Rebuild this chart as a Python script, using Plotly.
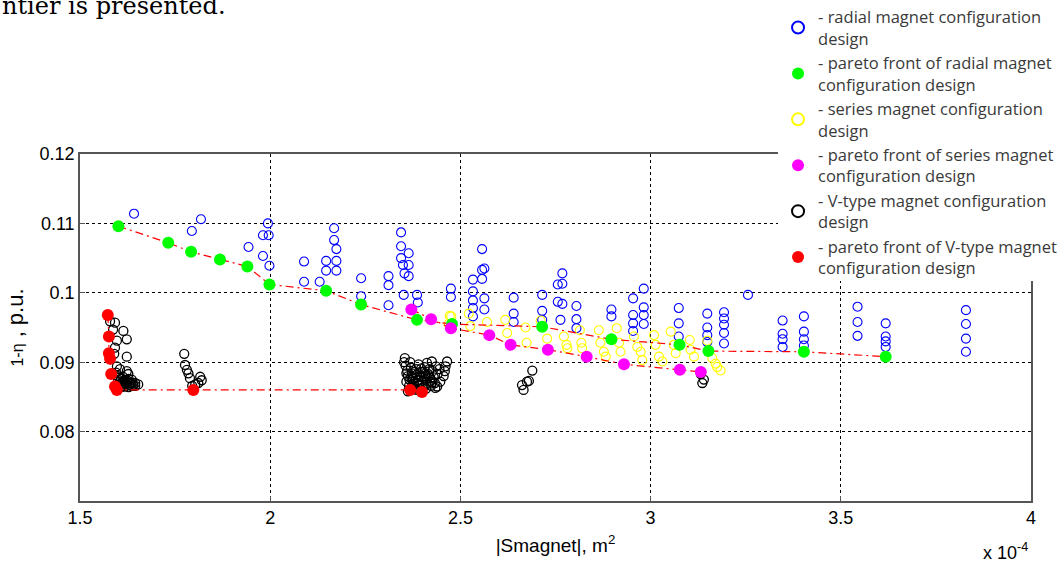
import plotly.graph_objects as go

# ---- data (x in units of 1e-4 m^2) ----
radial_x = [1.642, 1.794, 1.818, 1.943, 1.981, 1.981, 1.994, 1.996, 1.998,
            2.089, 2.089, 2.130, 2.147, 2.147,
            2.168, 2.168, 2.174, 2.174, 2.174,
            2.239, 2.239,
            2.311, 2.311, 2.311,
            2.344, 2.344, 2.344, 2.349, 2.353, 2.364, 2.364, 2.364, 2.351, 2.386, 2.388,
            2.475, 2.475,
            2.533, 2.533, 2.533, 2.533, 2.533, 2.557, 2.557, 2.557, 2.563, 2.563, 2.563,
            2.640, 2.640, 2.640,
            2.715, 2.715, 2.715,
            2.756, 2.768, 2.768, 2.756, 2.768, 2.763,
            2.805, 2.805, 2.805,
            2.897, 2.897,
            2.954, 2.954, 2.954, 2.954, 2.982, 2.982, 2.982, 2.982,
            3.074, 3.074, 3.074,
            3.149, 3.149, 3.149, 3.149,
            3.193, 3.193, 3.193, 3.193, 3.193,
            3.256,
            3.347, 3.347, 3.347, 3.347,
            3.403, 3.403, 3.403, 3.403,
            3.544, 3.544, 3.544,
            3.618, 3.618, 3.618, 3.618,
            3.829, 3.829, 3.829, 3.829]
radial_y = [0.1114, 0.1089, 0.1106, 0.1066, 0.1053, 0.1083, 0.1100, 0.1083, 0.1039,
            0.1045, 0.1016, 0.1016, 0.1046, 0.1032,
            0.1093, 0.1076, 0.1063, 0.1046, 0.1032,
            0.1021, 0.0995,
            0.1024, 0.1011, 0.0982,
            0.1087, 0.1067, 0.1050, 0.1040, 0.1028, 0.1057, 0.1040, 0.1024, 0.0997, 0.0997, 0.0986,
            0.1006, 0.0994,
            0.1019, 0.1002, 0.0989, 0.0978, 0.0966, 0.1063, 0.1033, 0.1020, 0.1035, 0.0992, 0.0976,
            0.0993, 0.0970, 0.0958,
            0.0997, 0.0974, 0.0961,
            0.1012, 0.1028, 0.1013, 0.0987, 0.0984, 0.0961,
            0.0981, 0.0962, 0.0949,
            0.0976, 0.0966,
            0.0992, 0.0968, 0.0956, 0.0945, 0.1006, 0.0979, 0.0968, 0.0955,
            0.0978, 0.0956, 0.0937,
            0.0970, 0.0950, 0.0939, 0.0929,
            0.0972, 0.0963, 0.0954, 0.0942, 0.0927,
            0.0997,
            0.0960, 0.0941, 0.0933, 0.0922,
            0.0966, 0.0944, 0.0933, 0.0924,
            0.0980, 0.0958, 0.0938,
            0.0956, 0.0937, 0.0930, 0.0922,
            0.0975, 0.0955, 0.0934, 0.0915]

radial_pareto_x = [1.601, 1.732, 1.792, 1.868, 1.940, 1.998, 2.147, 2.239, 2.386, 2.478,
                   2.715, 2.897, 3.076, 3.152, 3.403, 3.618]
radial_pareto_y = [0.1096, 0.1072, 0.1059, 0.1048, 0.1038, 0.1012, 0.1003, 0.0983, 0.0961, 0.0955,
                   0.0951, 0.0933, 0.0925, 0.0916, 0.0915, 0.0908]

series_x = [2.472, 2.476, 2.469, 2.522, 2.526, 2.570, 2.618, 2.623, 2.671, 2.674, 2.711,
            2.728, 2.772, 2.779, 2.781, 2.814, 2.818, 2.820, 2.864, 2.868, 2.877, 2.882,
            2.911, 2.917, 2.921, 2.956, 2.965, 2.974, 2.978, 3.009, 3.013, 3.022, 3.031,
            3.053, 3.061, 3.066, 3.103, 3.105, 3.114, 3.149, 3.162, 3.171, 3.175, 3.184]
series_y = [0.0967, 0.0966, 0.0955, 0.0970, 0.0952, 0.0958, 0.0961, 0.0942, 0.0950, 0.0928, 0.0960,
            0.0934, 0.0937, 0.0925, 0.0920, 0.0946, 0.0928, 0.0920, 0.0946, 0.0928, 0.0915, 0.0908,
            0.0949, 0.0928, 0.0915, 0.0937, 0.0922, 0.0915, 0.0903, 0.0939, 0.0925, 0.0908, 0.0901,
            0.0944, 0.0925, 0.0913, 0.0932, 0.0918, 0.0908, 0.0931, 0.0906, 0.0898, 0.0893, 0.0888]

series_pareto_x = [2.371, 2.423, 2.475, 2.576, 2.632, 2.730, 2.832, 2.930, 3.077, 3.132]
series_pareto_y = [0.0976, 0.0962, 0.0949, 0.0939, 0.0925, 0.0918, 0.0908, 0.0897, 0.0889, 0.0886]

vtype_x = [1.579, 1.592, 1.614, 1.623, 1.597, 1.592, 1.623, 1.597, 1.605, 1.623, 1.627, 1.636,
           1.645, 1.653, 1.614, 1.600, 1.605, 1.610, 1.615, 1.620, 1.625, 1.600, 1.595, 1.630,
           1.635, 1.640, 1.645, 1.587, 1.590, 1.603, 1.612, 1.618, 1.628,
           1.608, 1.613, 1.618, 1.623, 1.633, 1.602, 1.608, 1.628, 1.638,
           1.774, 1.776, 1.781, 1.785, 1.789, 1.816, 1.820, 1.811, 1.803, 1.795,
           2.354, 2.352, 2.425, 2.465, 2.461, 2.459, 2.456, 2.447, 2.439, 2.434,
           2.356, 2.360, 2.362, 2.358, 2.365, 2.370, 2.372, 2.375, 2.378, 2.380, 2.384, 2.386,
           2.389, 2.392, 2.395, 2.398, 2.400, 2.403, 2.406, 2.408, 2.411, 2.414, 2.417, 2.420,
           2.423, 2.427, 2.430, 2.433, 2.368, 2.390, 2.412, 2.440, 2.445, 2.436, 2.418, 2.385,
           2.398, 2.362,
           2.358, 2.366, 2.374, 2.382, 2.388, 2.394, 2.401, 2.404, 2.409, 2.415, 2.421, 2.426,
           2.379, 2.371, 2.397, 2.410, 2.392, 2.376,
           2.666, 2.662, 2.675, 2.680, 2.689,
           3.132, 3.136, 3.140]
vtype_y = [0.0959, 0.0957, 0.0945, 0.0933, 0.0931, 0.0921, 0.0908, 0.0894, 0.0890, 0.0887, 0.0883, 0.0875,
           0.0870, 0.0868, 0.0873, 0.0875, 0.0872, 0.0870, 0.0868, 0.0869, 0.0871, 0.0880, 0.0885, 0.0867,
           0.0866, 0.0867, 0.0866, 0.0947, 0.0912, 0.0878, 0.0866, 0.0874, 0.0876,
           0.0876, 0.0879, 0.0865, 0.0874, 0.0870, 0.0868, 0.0864, 0.0864, 0.0870,
           0.0912, 0.0896, 0.0889, 0.0884, 0.0877, 0.0879, 0.0874, 0.0870, 0.0868, 0.0866,
           0.0906, 0.0900, 0.0901, 0.0901, 0.0894, 0.0887, 0.0880, 0.0872, 0.0865, 0.0863,
           0.0895, 0.0888, 0.0880, 0.0872, 0.0866, 0.0892, 0.0884, 0.0876, 0.0869, 0.0862, 0.0890, 0.0882,
           0.0874, 0.0867, 0.0886, 0.0878, 0.0871, 0.0864, 0.0893, 0.0884, 0.0876, 0.0869, 0.0880, 0.0872,
           0.0866, 0.0887, 0.0878, 0.0870, 0.0900, 0.0897, 0.0899, 0.0883, 0.0890, 0.0894, 0.0890, 0.0860,
           0.0859, 0.0858,
           0.0884, 0.0875, 0.0868, 0.0878, 0.0870, 0.0880, 0.0886, 0.0877, 0.0868, 0.0883, 0.0877, 0.0871,
           0.0886, 0.0879, 0.0891, 0.0862, 0.0862, 0.0863,
           0.0860, 0.0867, 0.0872, 0.0873, 0.0888,
           0.0883, 0.0870, 0.0875]

vtype_pareto_x = [1.573, 1.576, 1.576, 1.579, 1.582, 1.592, 1.597, 1.798, 2.368, 2.399]
vtype_pareto_y = [0.0968, 0.0937, 0.0913, 0.0905, 0.0883, 0.0865, 0.0860, 0.0860, 0.0860, 0.0857]

x_ticks = [1.5, 2, 2.5, 3, 3.5, 4]
x_tick_labels = ["1.5", "2", "2.5", "3", "3.5", "4"]
y_ticks = [0.08, 0.09, 0.10, 0.11, 0.12]
y_tick_labels = ["0.08", "0.09", "0.1", "0.11", "0.12"]

legend_names = [
    "- radial magnet configuration<br>design",
    "- pareto front of radial magnet<br>configuration design",
    "- series magnet configuration<br>design",
    "- pareto front of series magnet<br>configuration design",
    "- V-type magnet configuration<br>design",
    "- pareto front of V-type magnet<br>configuration design",
]

fig = go.Figure()

open_size = 9
fill_size = 12

fig.add_trace(go.Scatter(x=radial_x, y=radial_y, mode="markers", name=legend_names[0],
                         legendrank=1,
                         marker=dict(symbol="circle-open", size=open_size, color="#0000ff",
                                     line=dict(width=1.1, color="#0000ff"))))
fig.add_trace(go.Scatter(x=series_x, y=series_y, mode="markers", name=legend_names[2],
                         legendrank=3,
                         marker=dict(symbol="circle-open", size=open_size, color="#ffff00",
                                     line=dict(width=1.1, color="#ffff00"))))
fig.add_trace(go.Scatter(x=vtype_x, y=vtype_y, mode="markers", name=legend_names[4],
                         legendrank=5,
                         marker=dict(symbol="circle-open", size=open_size, color="#000000",
                                     line=dict(width=1.3, color="#000000"))))

# pareto lines
for px, py in [(radial_pareto_x, radial_pareto_y), (series_pareto_x, series_pareto_y),
               (vtype_pareto_x, vtype_pareto_y)]:
    fig.add_trace(go.Scatter(x=px, y=py, mode="lines", showlegend=False, hoverinfo="skip",
                             line=dict(color="#ff0000", width=1.2, dash="8px,4px,2px,4px")))

fig.add_trace(go.Scatter(x=radial_pareto_x, y=radial_pareto_y, mode="markers", name=legend_names[1],
                         legendrank=2,
                         marker=dict(symbol="circle", size=fill_size, color="#00ff00", line=dict(width=0))))
fig.add_trace(go.Scatter(x=series_pareto_x, y=series_pareto_y, mode="markers", name=legend_names[3],
                         legendrank=4,
                         marker=dict(symbol="circle", size=fill_size, color="#ff00ff", line=dict(width=0))))
fig.add_trace(go.Scatter(x=vtype_pareto_x, y=vtype_pareto_y, mode="markers", name=legend_names[5],
                         legendrank=6,
                         marker=dict(symbol="circle", size=fill_size, color="#ff0000", line=dict(width=0))))

axis_font = dict(family="Liberation Sans, Arial, sans-serif", size=18, color="#000000")
xtitle_font = dict(family="Liberation Sans, Arial, sans-serif", size=19, color="#000000")
ytitle_font = dict(family="Liberation Sans, Arial, sans-serif", size=22, color="#000000")

fig.update_xaxes(range=[1.5, 4], tickvals=x_ticks, ticktext=x_tick_labels, tickfont=axis_font,
                 showgrid=True, gridcolor="#000000", griddash="3px,3px", gridwidth=1,
                 showline=True, linecolor="#555555", linewidth=1.5, mirror=True,
                 ticks="inside", ticklen=5, tickcolor="#555555", zeroline=False,
                 title=dict(text="|Smagnet|, m<sup>2</sup>", font=xtitle_font, standoff=11))
fig.update_yaxes(range=[0.07, 0.12], tickvals=y_ticks, ticktext=y_tick_labels, tickfont=axis_font,
                 showgrid=True, gridcolor="#000000", griddash="3px,3px", gridwidth=1,
                 showline=True, linecolor="#555555", linewidth=1.5, mirror=True,
                 ticks="inside", ticklen=5, tickcolor="#555555", zeroline=False,
                 title=dict(text="<span style='font-size:16px'>1-η</span> , p.u.", font=ytitle_font,
                            standoff=10))

fig.update_layout(
    width=1062, height=563,
    margin=dict(l=80, r=31, t=154, b=62, autoexpand=False),
    paper_bgcolor="white", plot_bgcolor="white",
    legend=dict(x=0.734, y=1.445, xanchor="left", yanchor="top", bgcolor="white",
                borderwidth=0, traceorder="normal",
                font=dict(family="Open Sans, Lato, sans-serif", size=16.5, color="#3a3a3a"),
                itemsizing="constant", tracegroupgap=0),
    annotations=[
        dict(text="ntier is presented.", xref="paper", yref="paper", x=-0.084, y=1.4265,
             xanchor="left", yanchor="middle", showarrow=False,
             font=dict(family="DejaVu Serif, serif", size=24, color="#000000")),
        dict(text="x 10<sup>-4</sup>", xref="paper", yref="paper", x=0.999, y=-0.145,
             xanchor="right", yanchor="middle", showarrow=False,
             font=dict(family="Liberation Sans, Arial, sans-serif", size=18, color="#000000")),
    ],
)

fig.write_html("out.html", config={"displayModeBar": False},
               post_script="document.body.style.margin='0';")
